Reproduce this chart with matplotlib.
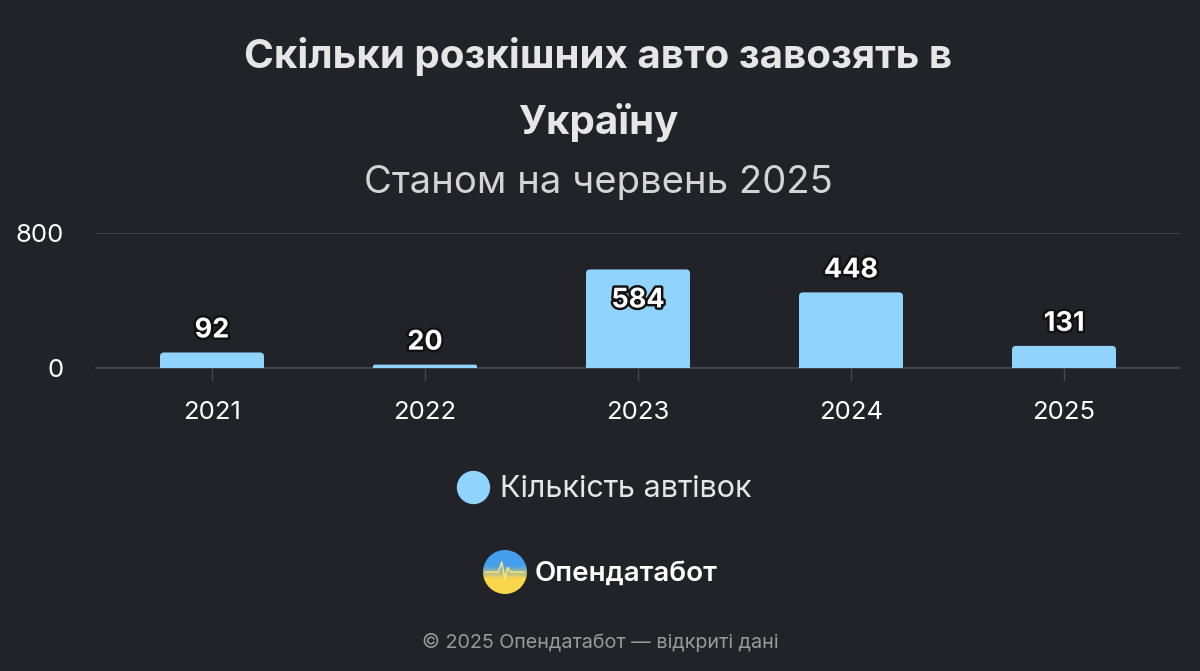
import numpy as np
import matplotlib
matplotlib.use("Agg")
import matplotlib.pyplot as plt
from matplotlib.patches import FancyBboxPatch, Rectangle, Circle
from matplotlib.lines import Line2D
import matplotlib.patheffects as pe

years = ["2021", "2022", "2023", "2024", "2025"]
counts = [92, 20, 584, 448, 131]
y_ticks = [0, 800]

title_lines = ["Скільки розкішних авто завозять в", "Україну"]
subtitle = "Станом на червень 2025"
series_name = "Кількість автівок"
brand = "Опендатабот"
footer = "© 2025 Опендатабот — відкриті дані"

BG = "#212328"
BAR = "#90d4fe"
GRID = "#45484d"
TXT = "#e6e6e6"

plt.rcParams["font.family"] = ["Inter", "DejaVu Sans"]

W, H = 1200, 671
fig = plt.figure(figsize=(W / 100, H / 100), dpi=100, facecolor=BG)


def fx(px):
    return px / W


def fy(py):
    return 1 - py / H


# plot area in pixels
left, right, top, bottom = 96, 1180, 233, 368
ax = fig.add_axes([fx(left), fy(bottom), fx(right - left), (bottom - top) / H])
ax.set_facecolor(BG)
x = np.arange(len(years))
x0, x1 = (left - 212) / 213, (right - 212) / 213
ax.set_xlim(x0, x1)
ax.set_ylim(0, 800)

px_per_x = (right - left) / (x1 - x0)
px_per_y = (bottom - top) / 800
bar_w = 104 / px_per_x
r_px = 4

for xi, v in zip(x, counts):
    h_px = v * px_per_y
    r = min(r_px, h_px / 2)
    rx = r / px_per_x
    aspect = px_per_x / px_per_y
    ax.add_patch(FancyBboxPatch((xi - bar_w / 2, 0), bar_w, v,
                                boxstyle=f"round,pad=0,rounding_size={rx}",
                                mutation_aspect=aspect, fc=BAR, ec="none", zorder=3))
    ax.add_patch(Rectangle((xi - bar_w / 2, 0), bar_w, v / 2, fc=BAR, ec="none", zorder=3))
    inside = v * px_per_y + 40 > (bottom - top)
    off = -31 if inside else 22
    ax.annotate(str(v), (xi, v), xytext=(0, off * 0.72), textcoords="offset points",
                ha="center", va="center", fontsize=19.5, fontweight="bold", color="white",
                zorder=5, annotation_clip=False,
                path_effects=[pe.withStroke(linewidth=3.5, foreground="#111111")])

ax.set_yticks(y_ticks)
ax.set_yticklabels([str(t) for t in y_ticks])
ax.yaxis.grid(True, color=GRID, linewidth=1.2)
ax.set_axisbelow(True)
ax.tick_params(axis="y", length=0, labelsize=18.5, labelcolor="white", pad=23)
ax.set_xticks(x)
ax.set_xticklabels(years)
ax.tick_params(axis="x", length=9, width=1, color=GRID, labelsize=18.5,
               labelcolor="white", pad=15)
for s in ["top", "left", "right"]:
    ax.spines[s].set_visible(False)
ax.spines["bottom"].set_color(GRID)
ax.spines["bottom"].set_linewidth(1.2)

fig.text(fx(598), fy(56), title_lines[0], ha="center", va="center", fontsize=29,
         fontweight="bold", color=TXT)
fig.text(fx(598), fy(122), title_lines[1], ha="center", va="center", fontsize=29,
         fontweight="bold", color=TXT)
fig.text(fx(598), fy(183), subtitle, ha="center", va="center", fontsize=27.5, color="#d4d4d4")

# legend
fig.add_artist(Line2D([fx(473)], [fy(487)], marker="o", markersize=23, color=BAR,
                      linestyle="none", transform=fig.transFigure))
fig.text(fx(500), fy(489), series_name, ha="left", va="center", fontsize=22, color=TXT)

# logo
lax = fig.add_axes([fx(483), fy(594), fx(44), 44 / H])
lax.set_xlim(-1, 1)
lax.set_ylim(-1, 1)
lax.axis("off")
grad = np.linspace(0, 1, 200)[:, None] * np.ones((1, 200))
c_top = np.array([0.27, 0.62, 0.93])
c_bot = np.array([0.98, 0.84, 0.30])
t = np.clip((grad - 0.35) / 0.3, 0, 1)[..., None]
img = c_top * (1 - t) + c_bot * t
im = lax.imshow(img, extent=(-1, 1, -1, 1), origin="upper")
clip = Circle((0, 0), 1, transform=lax.transData)
im.set_clip_path(clip)
lax.plot([-0.85, -0.3, -0.15, 0.0, 0.12, 0.25, 0.85],
         [0.0, 0.0, 0.45, -0.35, 0.2, 0.0, 0.0], color="#f6e27a", lw=1.2,
         clip_path=clip)
lax.set_aspect("equal")
fig.text(fx(535), fy(574), brand, ha="left", va="center", fontsize=20,
         fontweight="semibold", color="white")

fig.text(fx(600), fy(642), footer, ha="center", va="center", fontsize=14.2, color="#9a9a9a")

fig.savefig("out.png", dpi=100, facecolor=BG)
